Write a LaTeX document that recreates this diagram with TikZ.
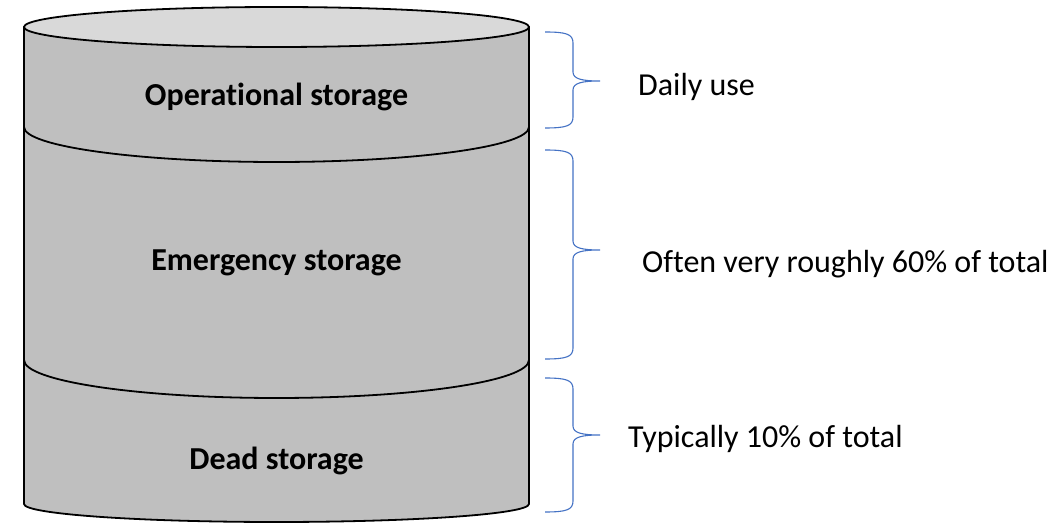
\documentclass[tikz,border=0pt]{standalone}
\usepackage{fontspec}
\setmainfont[Ligatures={NoCommon}]{Carlito}
\definecolor{tankgray}{HTML}{BFBFBF}
\definecolor{lidgray}{HTML}{D9D9D9}
\definecolor{braceblue}{HTML}{4472C4}
\newcommand{\sidebrace}[3]{% top, tip, bottom
  \draw[brace line] (545,#1) .. controls (566,#1) and (573,#1-2) .. (573,#1-11)
    -- (573,#2+9) .. controls (573,#2+2) and (582,#2) .. (600,#2)
    .. controls (582,#2) and (573,#2-2) .. (573,#2-9)
    -- (573,#3+11) .. controls (573,#3+2) and (566,#3) .. (545,#3);}
\begin{document}
\begin{tikzpicture}[x=1pt, y=1pt,
    tank line/.style = {draw=black, line width=1.8pt, line join=round},
    brace line/.style = {draw=braceblue, line width=1.1pt},
    tank label/.style = {font=\fontsize{32}{36}\selectfont\bfseries},
    side label/.style = {font=\fontsize{32}{36}\selectfont, anchor=west, inner sep=0pt}]
  \useasboundingbox (0,0) rectangle (1063,530);

  % tank body and lid
  \path[tank line, fill=tankgray] (24,503) -- (24,26)
    arc[start angle=180, end angle=360, x radius=252.5, y radius=18] -- (529,503) -- cycle;
  \path[tank line, fill=lidgray] (276.5,503) ellipse[x radius=252.5, y radius=20];

  % level lines
  \draw[tank line] (24,403) arc[start angle=180, end angle=360, x radius=252.5, y radius=35];
  \draw[tank line] (24,170) arc[start angle=180, end angle=360, x radius=252.5, y radius=38];

  \node[tank label] (ops) at (276.5,433) {Operational storage};
  \node[tank label] (emg) at (276.5,267) {Emergency storage};
  \node[tank label] (dead) at (276.5,69) {Dead storage};

  % braces
  \sidebrace{498}{449}{402}
  \sidebrace{380}{280}{171}
  \sidebrace{152}{95}{18}

  \node[side label] (daily) at (638,443) {Daily use};
  \node[side label] (often) at (642,266) {Often very roughly 60\% of total};
  \node[side label] (typ) at (628,91) {Typically 10\% of total};
\end{tikzpicture}
\end{document}
